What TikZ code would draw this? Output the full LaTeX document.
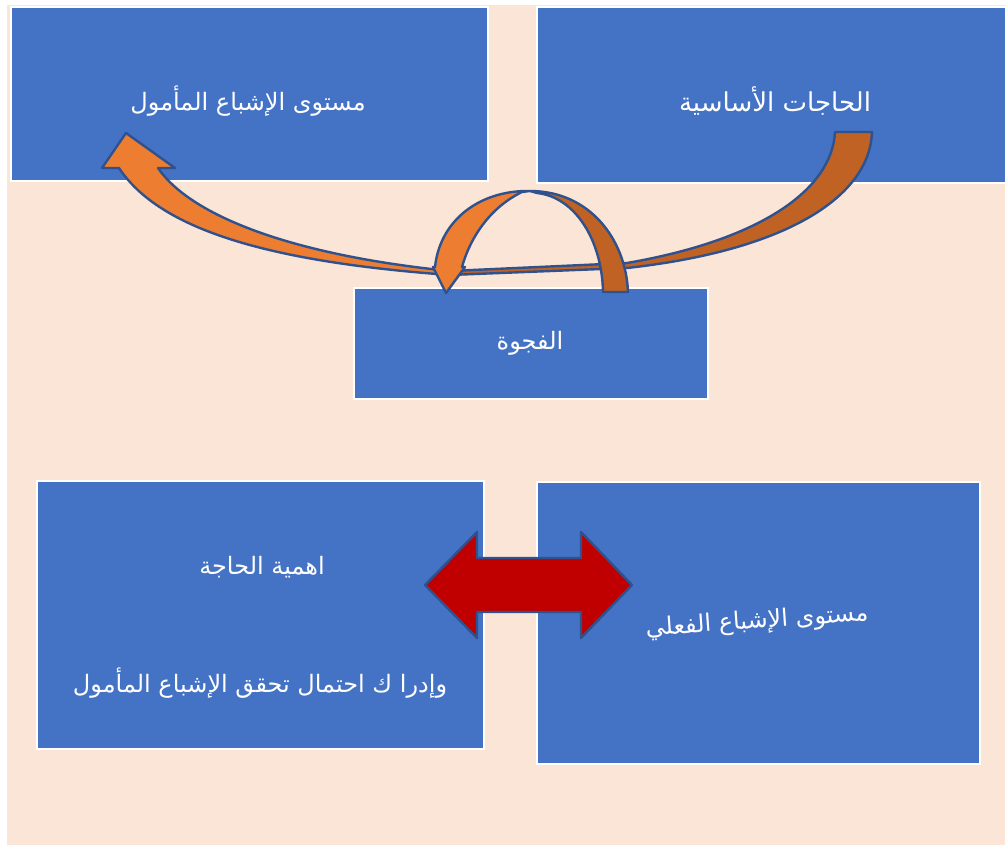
\documentclass[tikz,border=0pt]{standalone}
\usepackage{fontspec}
\newfontfamily\arabicfont[Script=Arabic]{DejaVu Sans}
\TeXXeTstate=1
\definecolor{peach}{HTML}{FBE5D6}
\definecolor{boxblue}{HTML}{4472C4}
\definecolor{lineblue}{HTML}{2F528F}
\definecolor{lorange}{HTML}{ED7D31}
\definecolor{dorange}{HTML}{BF6224}
\definecolor{arrred}{HTML}{C00000}
\begin{document}
\begin{tikzpicture}[x=1pt,y=-1pt,
  bluebox/.style={draw=white, line width=2pt, fill=boxblue, anchor=north west, inner sep=0pt},
  txt/.style={text=white, inner sep=0pt, font=\arabicfont\fontsize{24}{28}\selectfont},
  blockarrow/.style={draw=lineblue, line width=2.4pt, line join=round}]
\useasboundingbox (0,0) rectangle (1005,845);
\fill[white] (0,0) rectangle (1005,845);
\fill[peach] (7,5) rectangle (1005,845);
% boxes
\node[bluebox, minimum width=477pt, minimum height=174pt] (tl) at (10,6) {};
\node[bluebox, minimum width=472pt, minimum height=176pt] (tr) at (536,6) {};
\node[bluebox, minimum width=354pt, minimum height=111pt] (gap) at (353,287) {};
\node[bluebox, minimum width=447pt, minimum height=268pt] (bl) at (36,480) {};
\node[bluebox, minimum width=443pt, minimum height=282pt] (br) at (536,481) {};
% texts
\node[txt] (ttl) at (248,101) {\beginR مستوى الإشباع المأمول\endR};
\node[txt, font=\arabicfont\fontsize{26}{30}\selectfont] (ttr) at (775,101) {\beginR الحاجات الأساسية\endR};
\node[txt] (tgap) at (530,343) {\beginR الفجوة\endR};
\node[txt] (tbl1) at (262,567) {\beginR اهمية الحاجة\endR};
\node[txt] (tbl2) at (260,683) {\beginR وإدرا ك احتمال تحقق الإشباع المأمول\endR};
\node[txt, rotate=4] (tbr) at (757,622) {\beginR مستوى الإشباع الفعلي\endR};
% big curved arrow (top-right -> top-left)
\filldraw[blockarrow, fill=dorange]
  (835,132) -- (872,132) .. controls (870,195) and (790,250) .. (627,268)
  -- (450,275) -- (450,271) -- (627,263)
  .. controls (760,240) and (832,190) .. (835,132) -- cycle;
\filldraw[blockarrow, fill=lorange]
  (102,168) -- (126,133) -- (175,168) -- (158,168)
  .. controls (190,215) and (290,255) .. (450,271)
  -- (450,275) .. controls (270,262) and (160,230) .. (119,168) -- cycle;
% arch arrow over the gap box
\filldraw[blockarrow, fill=dorange]
  (530,191) .. controls (590,191) and (626,240) .. (628,292)
  -- (603,292) .. controls (602,240) and (575,197) .. (537,193) -- cycle;
\filldraw[blockarrow, fill=lorange]
  (433,267) -- (446,293) -- (465,267) -- (462,267)
  .. controls (468,245) and (485,210) .. (522,192) -- (530,191)
  .. controls (480,190) and (440,220) .. (435,267) -- cycle;
% red double arrow between the lower boxes
\filldraw[blockarrow, fill=arrred]
  (425,585) -- (477,532) -- (477,558) -- (581,558) -- (581,532) -- (632,585)
  -- (581,638) -- (581,612) -- (477,612) -- (477,638) -- cycle;
\end{tikzpicture}
\end{document}
